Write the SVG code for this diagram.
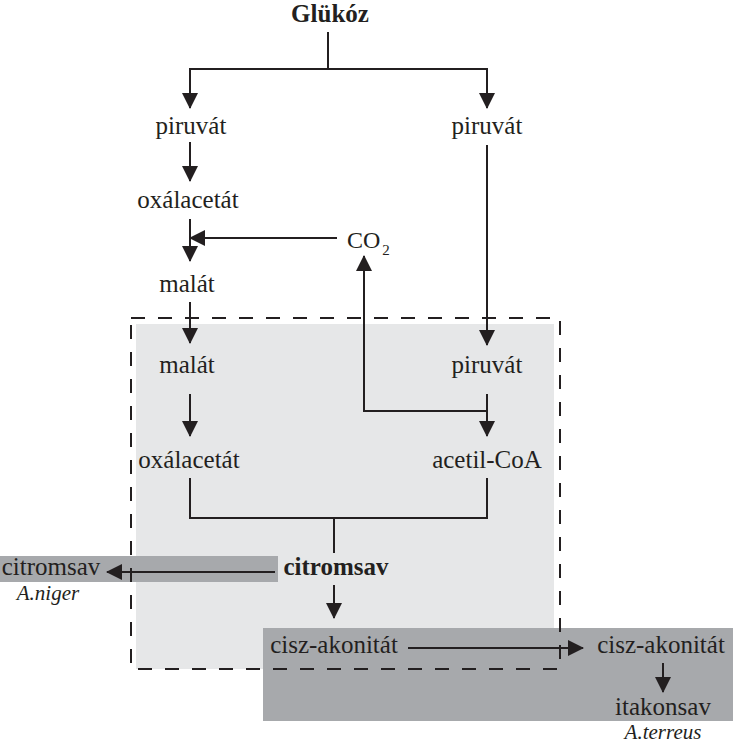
<svg xmlns="http://www.w3.org/2000/svg" width="733" height="743" viewBox="0 0 733 743">
<style>
text{font-family:"Liberation Serif","Times New Roman",serif;font-size:25px;fill:#231f20;text-anchor:middle}
.b{font-weight:bold}
.i{font-style:italic;font-size:21px}
.c{fill:none;stroke:#231f20;stroke-width:2}
.a{marker-end:url(#ah)}
</style>
<defs>
<marker id="ah" viewBox="0 0 16 16" refX="15" refY="8" markerWidth="16" markerHeight="16" orient="auto" markerUnits="userSpaceOnUse">
<path d="M0,0 L16,8 L0,16 z" fill="#231f20"/>
</marker>
</defs>
<g id="backgrounds">
<rect x="136" y="324" width="418" height="345" fill="#e6e7e8"/>
<rect x="263" y="628" width="470" height="93" fill="#a7a9ac"/>
<rect x="0" y="556" width="278" height="26" fill="#a7a9ac"/>
<rect x="131" y="318" width="429" height="351" fill="none" stroke="#231f20" stroke-width="2" stroke-dasharray="14,13"/>
</g>
<g id="connectors">
<path class="c" d="M328,32 V69"/>
<path class="c a" d="M328,69 H190 V108"/>
<path class="c a" d="M328,69 H487 V108"/>
<path class="c a" d="M190,142 V181"/>
<path class="c a" d="M190,219 V261"/>
<path class="c a" d="M337,238 H190"/>
<path class="c a" d="M487,411 H364 V256"/>
<path class="c a" d="M487,145 V345"/>
<path class="c a" d="M190,302 V343"/>
<path class="c a" d="M190,394 V436"/>
<path class="c a" d="M487,394 V436"/>
<path class="c" d="M190,478 V518 H487 V478"/>
<path class="c" d="M334,518 V553"/>
<path class="c a" d="M275,572 H107"/>
<path class="c a" d="M334,585 V618"/>
<path class="c a" d="M408,648 H583"/>
<path class="c a" d="M663,663 V692"/>
</g>
<g id="n-glukoz"><text class="b" x="330" y="22">Glükóz</text></g>
<g id="n-piruvat1"><text x="191" y="134">piruvát</text></g>
<g id="n-piruvat2"><text x="487" y="134">piruvát</text></g>
<g id="n-oxal1"><text x="188" y="208">oxálacetát</text></g>
<g id="n-co2"><text x="347" y="248" style="text-anchor:start;font-size:24px">CO</text><text x="386" y="255" style="font-size:15px">2</text></g>
<g id="n-malat1"><text x="187" y="292">malát</text></g>
<g id="n-malat2"><text x="187" y="373">malát</text></g>
<g id="n-piruvat3"><text x="487" y="373">piruvát</text></g>
<g id="n-oxal2"><text x="189" y="468">oxálacetát</text></g>
<g id="n-acetil"><text x="487" y="468">acetil-CoA</text></g>
<g id="n-citrom"><text class="b" x="336" y="575">citromsav</text></g>
<g id="n-citrom2"><text x="51" y="575">citromsav</text><text class="i" x="48" y="600">A.niger</text></g>
<g id="n-cisz1"><text x="334" y="653">cisz-akonitát</text></g>
<g id="n-cisz2"><text x="661" y="653">cisz-akonitát</text></g>
<g id="n-itakon"><text x="663" y="715">itakonsav</text><text class="i" x="663" y="739">A.terreus</text></g>
</svg>
